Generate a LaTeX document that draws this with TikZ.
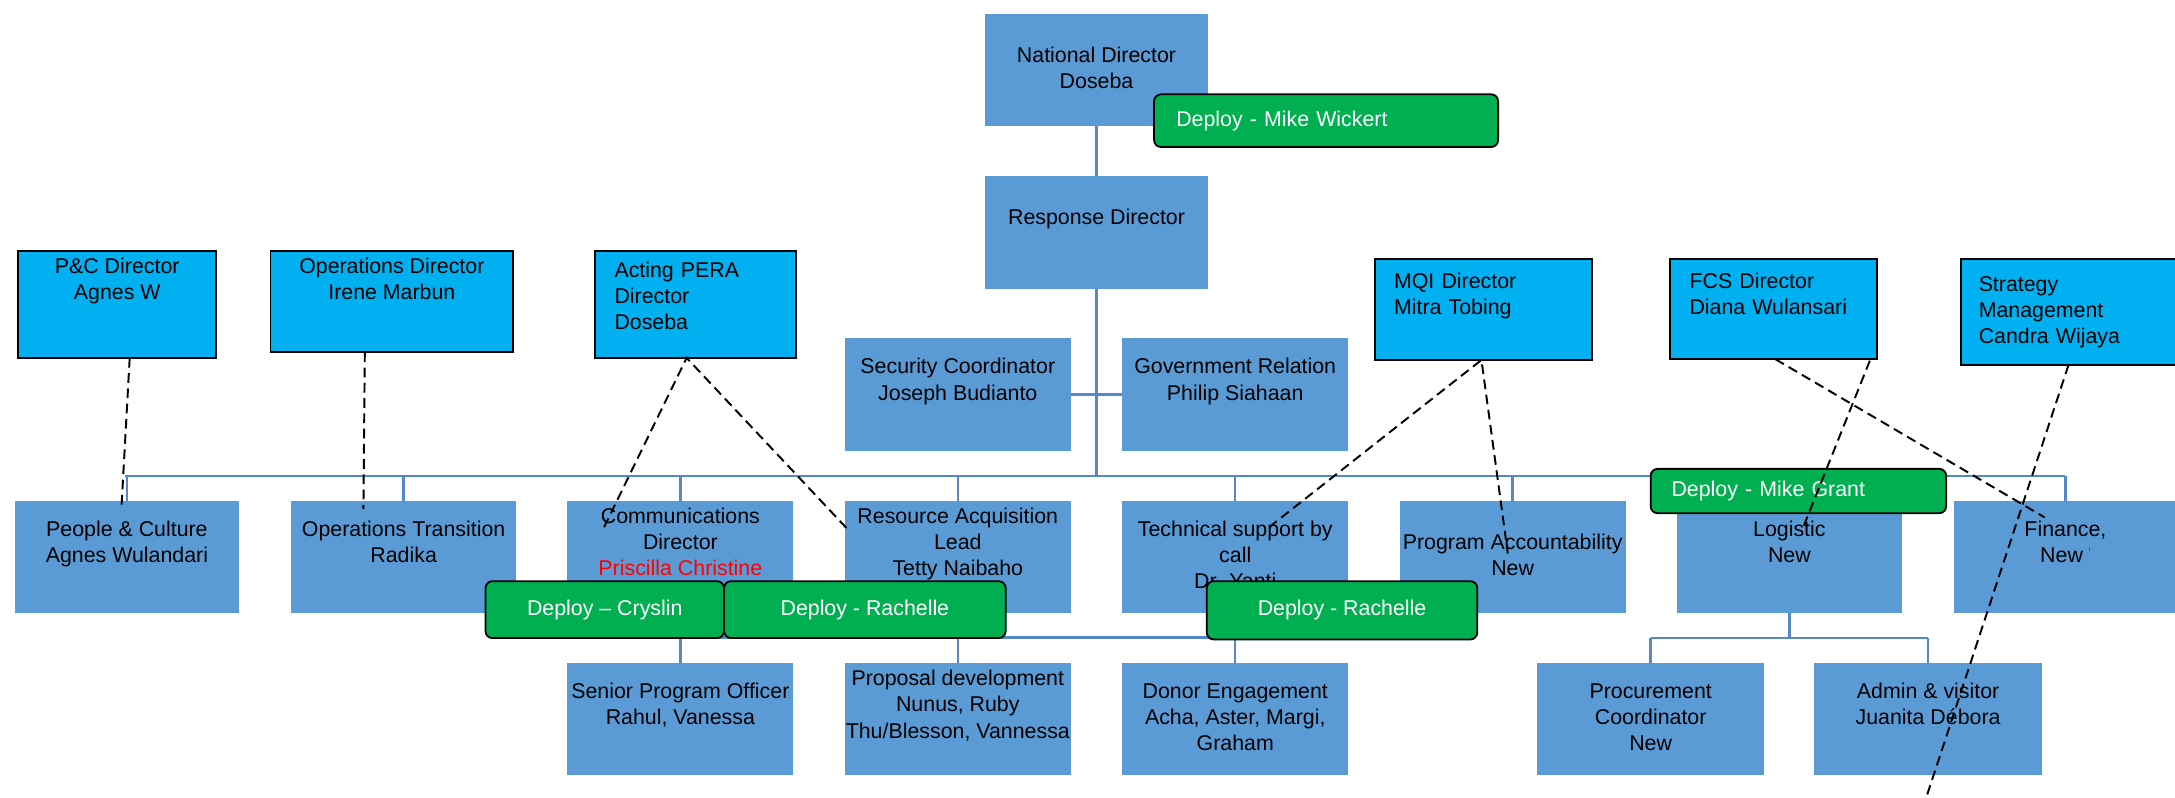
\documentclass[tikz,border=0pt]{standalone}
\usepackage{fontspec}
\setmainfont{Liberation Sans}
\usetikzlibrary{calc}
\definecolor{boxblue}{RGB}{91,155,213}
\definecolor{dircyan}{RGB}{0,176,240}
\definecolor{depgreen}{RGB}{0,176,80}
\definecolor{linkblue}{RGB}{84,136,200}
\definecolor{namered}{RGB}{255,0,0}
\pgfdeclarelayer{canvas}
\pgfdeclarelayer{links}
\pgfsetlayers{canvas,links,main}
\begin{document}
\begin{tikzpicture}[x=1pt,y=-1pt,
  every node/.style={font=\fontsize{15.4}{19}\selectfont, inner sep=0pt, outer sep=0pt},
  unit/.style={fill=boxblue, text=black, align=center,
    execute at begin node={\rule{0pt}{15pt}}, execute at end node={\rule[-3pt]{0pt}{3pt}}},
  dircenter/.style={fill=dircyan, draw=black, line width=1.3pt, text=black, align=center,
    execute at begin node={\rule{0pt}{15pt}}, execute at end node={\rule[-3pt]{0pt}{3pt}}},
  dirleft/.style={fill=dircyan, draw=black, line width=1.3pt, text=black, align=left,
    inner xsep=#1pt, execute at begin node=\strut, execute at end node=\strut},
  deploy/.style={fill=depgreen, draw=black, line width=1.3pt, rounded corners=5pt,
    text=white, align=center},
  deployleft/.style={deploy, align=left, inner xsep=#1pt},
  link/.style={draw=linkblue, line width=1.8pt},
  dashlink/.style={draw=black, line width=1.4pt, dash pattern=on 7pt off 4pt}
]
\useasboundingbox (0,0) rectangle (1568,575);
\begin{pgfonlayer}{canvas}
  \fill[white] (0,0) rectangle (1568,575);
\end{pgfonlayer}

% ---- top chain
\node[unit, minimum width=161pt, minimum height=81pt] (nd) at (790.5,50.5) {National Director\\Doseba};
\node[unit, minimum width=161pt, minimum height=81pt] (rd) at (790.5,167.5) {Response Director\\};
\node[unit, minimum width=163pt, minimum height=81pt] (sec) at (690.5,284.5) {Security Coordinator\\Joseph Budianto\\};
\node[unit, minimum width=163pt, minimum height=81pt] (gov) at (890.5,284.5) {Government Relation\\Philip Siahaan\\};

% ---- directors (cyan)
\node[dircenter, minimum width=143pt, minimum height=77pt] (pc) at (84.5,219.5) {P\&C Director\\Agnes W\\[15pt]};
\node[dircenter, minimum width=175pt, minimum height=73pt] (od) at (282.5,217.5) {Operations Director\\Irene Marbun\\[11pt]};
\node[dirleft=14, text width=117pt, minimum width=145pt, minimum height=77pt] (pera) at (501.5,219.5) {Acting PERA\\Director\\Doseba\rule[-14.7pt]{0pt}{0pt}};
\node[dirleft=14, text width=128.5pt, minimum width=156.5pt, minimum height=72.5pt] (mqi) at (1069.25,223.25) {MQI Director\\Mitra Tobing\\};
\node[dirleft=14, text width=121pt, minimum width=149pt, minimum height=72pt] (fcs) at (1278.5,223) {FCS Director\\Diana Wulansari\\};
\node[dirleft=13, text width=129.5pt, minimum width=155.5pt, minimum height=76pt] (strat) at (1491.25,225) {Strategy\\Management\\Candra Wijaya};

% ---- first level units
\node[unit, minimum width=161pt, minimum height=81pt] (pcul) at (91.5,401.5) {People \& Culture\\Agnes Wulandari\\};
\node[unit, minimum width=162pt, minimum height=81pt] (opt) at (291,401.5) {Operations Transition\\Radika\\};
\node[unit, minimum width=163pt, minimum height=81pt] (comm) at (490.5,401.5) {Communications\\Director\\\textcolor{namered}{Priscilla Christine}\\};
\node[unit, minimum width=163pt, minimum height=81pt] (ra) at (690.5,401.5) {Resource Acquisition\\Lead\\Tetty Naibaho\\};
\node[unit, minimum width=163pt, minimum height=81pt] (ts) at (890.5,401.5) {Technical support by\\call\\Dr. Yanti};
\node[unit, minimum width=163pt, minimum height=81pt] (pa) at (1090.5,401.5) {Program Accountability\\New};
\node[unit, minimum width=162pt, minimum height=81pt] (lg) at (1290,401.5) {Logistic\\New\\};
\node[unit, minimum width=160pt, minimum height=81pt] (fin) at (1489,401.5) {Finance,\\New\hspace{4pt}\raisebox{5pt}{\fontsize{7}{7}\selectfont'}\\};

% ---- second level units
\node[unit, minimum width=163pt, minimum height=81pt] (spo) at (490.5,518.5) {Senior Program Officer\\Rahul, Vanessa\\};
\node[unit, minimum width=163pt, minimum height=81pt] (pd) at (690.5,518.5) {Proposal development\\Nunus, Ruby\\Thu/Blesson, Vannessa\\};
\node[unit, minimum width=163pt, minimum height=81pt] (de) at (890.5,518.5) {Donor Engagement\\Acha, Aster, Margi,\\Graham};
\node[unit, minimum width=164pt, minimum height=81pt] (pc2) at (1190,518.5) {Procurement\\Coordinator\\New};
\node[unit, minimum width=164pt, minimum height=81pt] (adm) at (1390,518.5) {Admin \& visitor\\Juanita Débora\\};

% ---- solid connectors
\coordinate (busY) at (0,343);
\coordinate (bus2Y) at (0,459.5);
\coordinate (bus3Y) at (0,460);
\begin{pgfonlayer}{links}
  \draw[link] (nd.south) -- (rd.north);
  \draw[link] (rd.south) -- (rd.south |- busY);
  \draw[link] (sec.east) -- (gov.west);
  \draw[link] ([xshift=-1.5pt]pcul.north |- busY) -- (fin.north |- busY);
  \foreach \u in {pcul,opt,comm,ra,ts,pa,lg,fin}
    \draw[link] (\u.north |- busY) -- (\u.north);
  \draw[link] (spo.north |- bus2Y) -- (de.north |- bus2Y);
  \foreach \u in {spo,pd,de}
    \draw[link] (\u.north |- bus2Y) -- (\u.north);
  \draw[link] (lg.south) -- (lg.south |- bus3Y);
  \draw[link] (pc2.north |- bus3Y) -- (adm.north |- bus3Y);
  \foreach \u in {pc2,adm}
    \draw[link] (\u.north |- bus3Y) -- (\u.north);
\end{pgfonlayer}

% ---- deploy tags
\node[deployleft=16, text width=216pt, minimum width=248pt, minimum height=38pt] (dw) at (956,87) {Deploy - Mike Wickert};
\node[deployleft=15, text width=183pt, minimum width=213pt, minimum height=32pt] (dmg) at (1296.5,354) {Deploy - Mike Grant};
\node[deploy, minimum width=172pt, minimum height=41pt] (dc) at (436,439.5) {Deploy – Cryslin};
\node[deploy, minimum width=203pt, minimum height=41pt] (dr1) at (623.5,439.5) {Deploy - Rachelle};
\node[deploy, minimum width=195pt, minimum height=42pt] (dr2) at (967.5,440) {Deploy - Rachelle};

% ---- dashed (dotted-line) reporting
\coordinate (stratEnd) at (1387,580);
\draw[dashlink] ($(pc.south)+(9,0)$) -- ($(pcul.north)+(-4,6)$);
\draw[dashlink] ($(od.south)+(-19.5,0)$) -- ($(opt.north)+(-29,6)$);
\draw[dashlink] ($(comm.north)+(-55,19)$) -- ($(pera.south)+(-6.5,0)$) -- ($(ra.north)+(-79,21)$);
\draw[dashlink] ($(ts.north)+(24.5,19)$) -- ($(mqi.south)+(-1.25,0)$) -- ($(pa.north)+(-3.5,38)$);
\draw[dashlink] ($(fcs.south)+(1.5,0)$) -- ($(fin.north)+(-15,12)$);
\draw[dashlink] ($(fcs.south)+(69.5,1)$) -- ($(lg.north)+(10,19)$);
\draw[dashlink] (strat.south) -- (stratEnd);
\end{tikzpicture}
\end{document}
